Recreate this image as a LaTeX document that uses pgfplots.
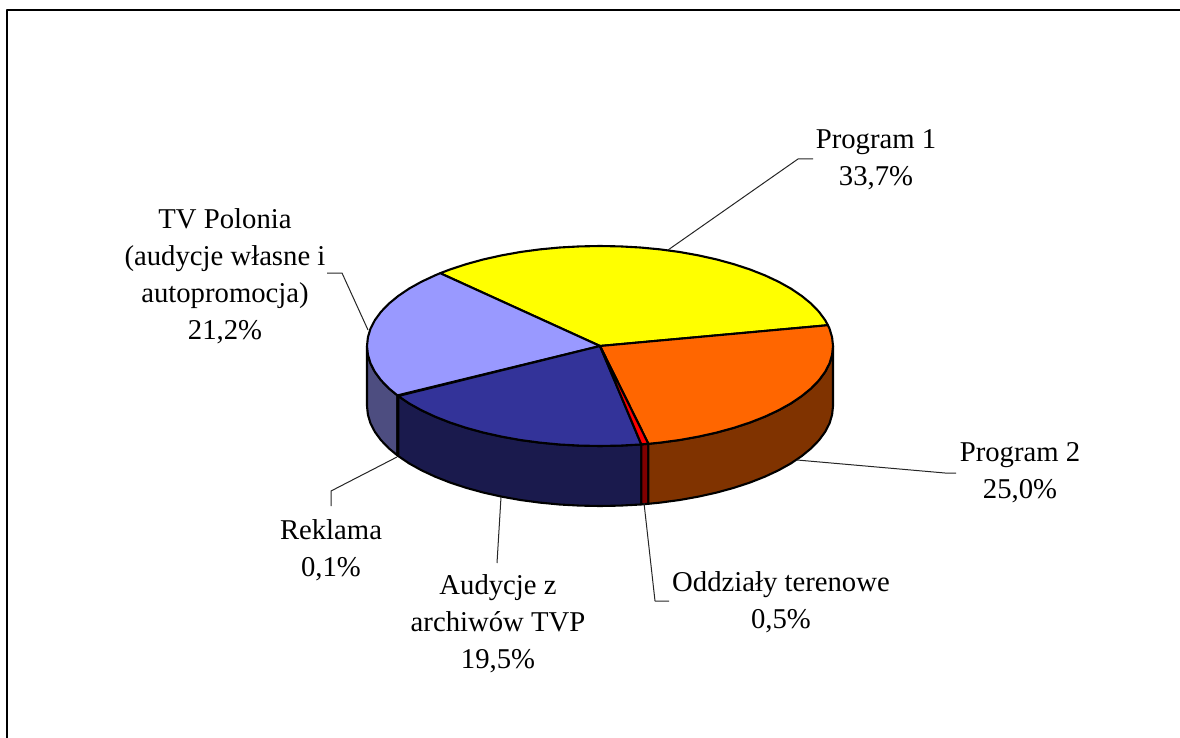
\documentclass[border=0pt]{standalone}
\usepackage{fontspec}
\setmainfont{Liberation Serif}
\usepackage{pgfplots}
\pgfplotsset{compat=1.18}
\definecolor{cYellow}{HTML}{FFFF00}
\definecolor{cOrange}{HTML}{FF6600}
\definecolor{cRed}{HTML}{FF0000}
\definecolor{cBlue}{HTML}{333399}
\definecolor{cPeri}{HTML}{9999FF}
\definecolor{sOrange}{HTML}{803300}
\definecolor{sRed}{HTML}{800000}
\definecolor{sBlue}{HTML}{1A1A4D}
\definecolor{sPeri}{HTML}{4D4D80}
\tikzset{
    wedge/.style={draw=black,line width=2.1pt},
    leader/.style={draw=black!85,line width=1pt},
    lab/.style={align=center,anchor=center,font=\fontsize{28.7}{37}\selectfont,inner sep=0pt}
}
\begin{document}
\begin{tikzpicture}
\useasboundingbox (0,0) rectangle (1180pt,738pt);
\begin{axis}[
    at={(0,0)},
    anchor=south west,
    scale only axis,
    width=1180pt,
    height=738pt,
    xmin=0, xmax=1180,
    ymin=0, ymax=738,
    y dir=reverse,
    axis lines=none,
    no markers,
    clip=true,
    every axis plot/.append style={line join=round}
]
% frame
\addplot[black,line width=1.4pt] coordinates {(7,738) (7,10) (1180,10)};

% side walls
\addplot[wedge,fill=sPeri] coordinates {(367,346) (367.9,354.7) (370.5,363.4) (374.9,371.9) (381,380.2) (388.8,388.3) (397.4,395.4)
    (397.4,455.4) (388.8,448.3) (381,440.2) (374.9,431.9) (370.5,423.4) (367.9,414.7) (367,406) (367,346)};
\addplot[wedge,fill=black] coordinates {(397.4,395.4) (398.2,396) (398.2,456) (397.4,455.4) (397.4,395.4)};
\addplot[wedge,fill=sBlue] coordinates {(398.2,396) (409.1,403.4) (421.5,410.3) (435.2,416.7) (450.2,422.6) (466.4,427.9) (483.5,432.6) (501.5,436.6) (520.3,440) (539.7,442.6) (559.6,444.5) (579.7,445.6) (600,446) (620.3,445.6) (640.4,444.5) (641.3,444.4)
    (641.3,504.4) (640.4,504.5) (620.3,505.6) (600,506) (579.7,505.6) (559.6,504.5) (539.7,502.6) (520.3,500) (501.5,496.6) (483.5,492.6) (466.4,487.9) (450.2,482.6) (435.2,476.7) (421.5,470.3) (409.1,463.4) (398.2,456) (398.2,396)};
\addplot[wedge,fill=sRed] coordinates {(641.3,444.4) (648.4,443.8) (648.4,503.8) (641.3,504.4) (641.3,444.4)};
\addplot[wedge,fill=sOrange] coordinates {(648.4,443.8) (660.3,442.6) (679.7,440) (698.5,436.6) (716.5,432.6) (733.6,427.9) (749.8,422.6) (764.8,416.7) (778.5,410.3) (790.9,403.4) (801.8,396) (811.2,388.3) (819,380.2) (825.1,371.9) (829.5,363.4) (832.1,354.7) (833,346)
    (833,406) (832.1,414.7) (829.5,423.4) (825.1,431.9) (819,440.2) (811.2,448.3) (801.8,456) (790.9,463.4) (778.5,470.3) (764.8,476.7) (749.8,482.6) (733.6,487.9) (716.5,492.6) (698.5,496.6) (679.7,500) (660.3,502.6) (648.4,503.8) (648.4,443.8)};

% top face
\addplot[wedge,fill=cYellow] coordinates {(600,346) (827.9,325.2) (825.1,320.1) (819,311.8) (811.2,303.7) (801.8,296) (790.9,288.6) (778.5,281.7) (764.8,275.3) (749.8,269.4) (733.6,264.1) (716.5,259.4) (698.5,255.4) (679.7,252) (660.3,249.4) (640.4,247.5) (620.3,246.4) (600,246) (579.7,246.4) (559.6,247.5) (539.7,249.4) (520.3,252) (501.5,255.4) (483.5,259.4) (466.4,264.1) (450.2,269.4) (440.2,273.2) (600,346)};
\addplot[wedge,fill=cPeri] coordinates {(600,346) (440.2,273.2) (435.2,275.3) (421.5,281.7) (409.1,288.6) (398.2,296) (388.8,303.7) (381,311.8) (374.9,320.1) (370.5,328.6) (367.9,337.3) (367,346) (367.9,354.7) (370.5,363.4) (374.9,371.9) (381,380.2) (388.8,388.3) (397.4,395.4) (600,346)};
\addplot[wedge,fill=cBlue] coordinates {(600,346) (398.2,396) (409.1,403.4) (421.5,410.3) (435.2,416.7) (450.2,422.6) (466.4,427.9) (483.5,432.6) (501.5,436.6) (520.3,440) (539.7,442.6) (559.6,444.5) (579.7,445.6) (600,446) (620.3,445.6) (640.4,444.5) (641.3,444.4) (600,346)};
\addplot[wedge,fill=cOrange] coordinates {(600,346) (648.4,443.8) (660.3,442.6) (679.7,440) (698.5,436.6) (716.5,432.6) (733.6,427.9) (749.8,422.6) (764.8,416.7) (778.5,410.3) (790.9,403.4) (801.8,396) (811.2,388.3) (819,380.2) (825.1,371.9) (829.5,363.4) (832.1,354.7) (833,346) (832.1,337.3) (829.5,328.6) (827.9,325.2) (600,346)};
\addplot[wedge,fill=cRed] coordinates {(600,346) (641.3,444.4) (648.4,443.8) (600,346)};

% leader lines
\addplot[leader] coordinates {(668,250) (798,159) (813,159)};
\addplot[leader] coordinates {(797,460) (945,473) (956,473)};
\addplot[leader] coordinates {(644,503) (655,601) (669,601)};
\addplot[leader] coordinates {(397,457) (331,491) (331,506)};
\addplot[leader] coordinates {(501,497) (497,563)};
\addplot[leader] coordinates {(368,330) (342,273) (327,273)};

% labels
\node[lab] at (axis cs:876,160) {Program 1\\33,7\%};
\node[lab] at (axis cs:225,276) {TV Polonia\\(audycje własne i\\autopromocja)\\21,2\%};
\node[lab] at (axis cs:1020,473) {Program 2\\25,0\%};
\node[lab] at (axis cs:331,550) {Reklama\\0,1\%};
\node[lab] at (axis cs:498,624) {Audycje z\\archiwów TVP\\19,5\%};
\node[lab] at (axis cs:781,602) {Oddziały terenowe\\0,5\%};
\end{axis}
\end{tikzpicture}
\end{document}
